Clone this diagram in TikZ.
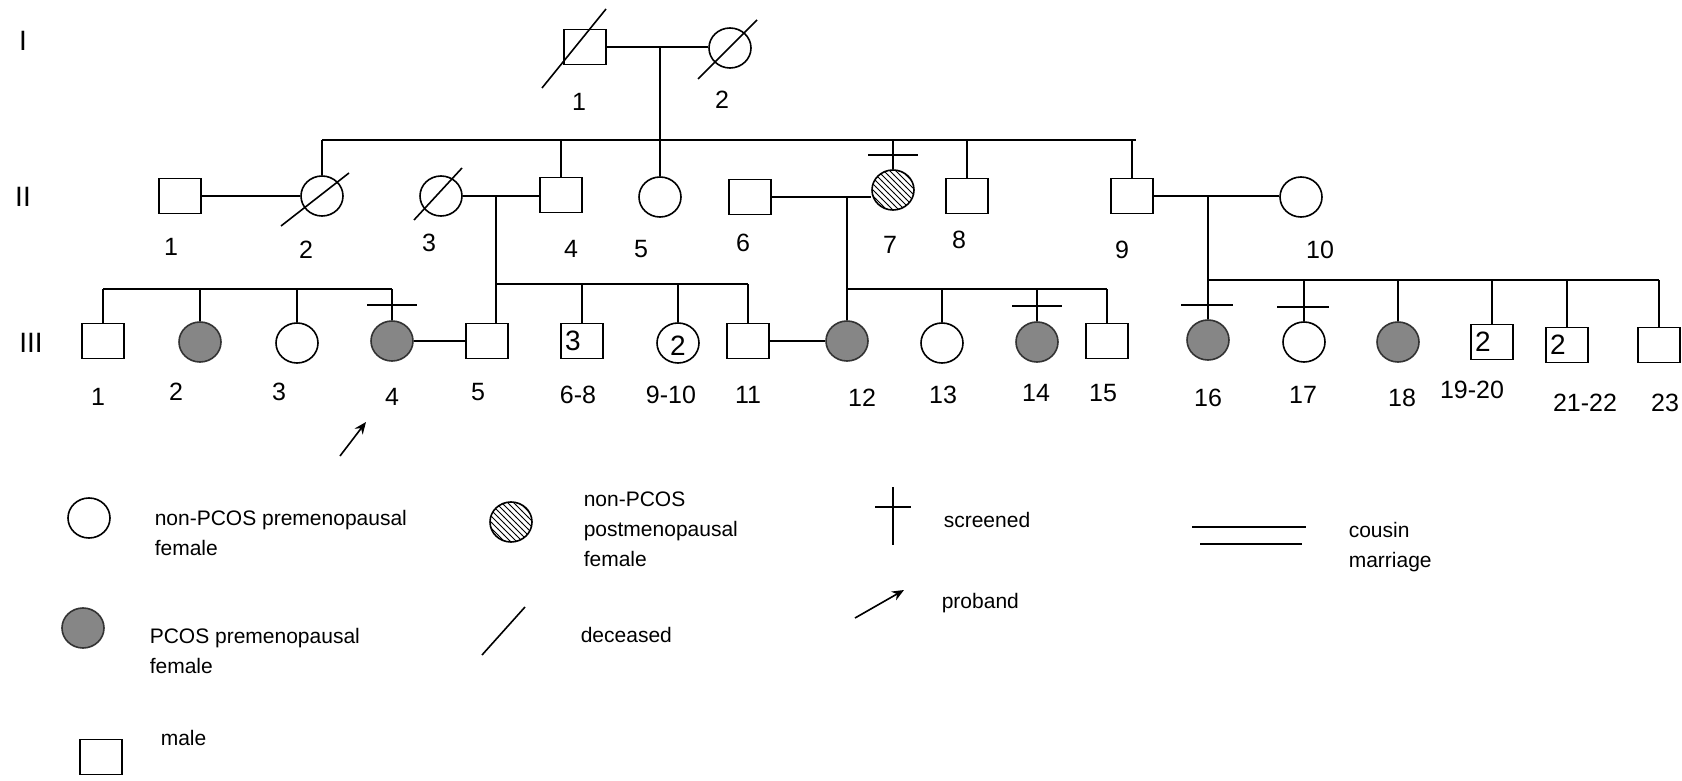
\documentclass[tikz,border=0pt]{standalone}
\usepackage{fontspec}
\setmainfont{Liberation Sans}
\usetikzlibrary{positioning,shapes.geometric,patterns,arrows.meta}

\tikzset{
  male/.style={draw, minimum width=21pt, minimum height=17.5pt, inner sep=0pt},
  female/.style={draw, ellipse, minimum width=21pt, minimum height=20pt, inner sep=0pt},
  pcos/.style={female, fill=gray!95, draw=gray!40!black},
  postmeno/.style={female, pattern=north west lines},
  num/.style={font=\fontsize{12.5}{14}\selectfont, inner sep=0pt},
  gen/.style={font=\fontsize{14}{16}\selectfont, inner sep=0pt},
  innum/.style={font=\fontsize{14}{16}\selectfont, inner sep=0pt},
  legtext/.style={font=\fontsize{10.5}{15}\selectfont, align=left, anchor=west, inner sep=0pt},
  proband/.style={-{Stealth[length=6pt,width=5pt]}},
}

\begin{document}
\begin{tikzpicture}[x=0.5pt, y=-0.5pt, line width=0.8pt]
\useasboundingbox (0,0) rectangle (1682,781);

% generations
\node [gen] (gI) at (23,41) {I};
\node [gen] (gII) at (23,197) {II};
\node [gen] (gIII) at (31,343) {III};

% generation I
\node [male] (i1) at (585,47) {};
\node [female] (i2) at (730,48) {};
\draw (i1.east) -- (i1.east -| i2.west);
\draw ([shift={(-43,41)}]i1.center) -- ([shift={(21,-38)}]i1.center);
\draw ([shift={(-32,31)}]i2.center) -- ([shift={(27,-28)}]i2.center);
\node [num] (lI1) at (579,102) {1};
\node [num] (lI2) at (722,100) {2};

% generation II
\node [male] (ii1) at (180,196) {};
\node [female] (ii2) at (322,196) {};
\node [female] (ii3) at (441,196) {};
\node [male] (ii4) at (561,195) {};
\node [female] (ii5) at (660,197) {};
\node [male] (ii6) at (750,197) {};
\node [postmeno] (ii7) at (893,190) {};
\node [male] (ii8) at (967,196) {};
\node [male] (ii9) at (1132,196) {};
\node [female] (ii10) at (1301,197) {};

\draw ([shift={(-41,30)}]ii2.center) -- ([shift={(27,-23)}]ii2.center);
\draw ([shift={(-27,24)}]ii3.center) -- ([shift={(21,-28)}]ii3.center);

\coordinate (m1) at (660,47);
\coordinate (s1l) at (322,140);
\coordinate (s1r) at (1136,140);
\draw (m1) -- (ii5.north);
\draw (s1l) -- (s1r);
\draw (ii2.north |- s1l) -- (ii2.north);
\draw (ii4.north |- s1l) -- (ii4.north);
\draw (ii7.north |- s1l) -- (ii7.north);
\draw (ii8.north |- s1l) -- (ii8.north);
\draw (ii9.north |- s1l) -- (ii9.north);
\draw ([shift={(-25,-14)}]ii7.north) -- ([shift={(25,-14)}]ii7.north);

\draw (ii1.east) -- (ii1.east -| ii2.west);
\draw (ii3.east) -- (ii3.east -| ii4.west);
\draw (ii6.east) -- (ii6.east -| ii7.west);
\draw (ii9.east) -- (ii9.east -| ii10.west);

\node [num] (lII1) at (171,247) {1};
\node [num] (lII2) at (306,250) {2};
\node [num] (lII3) at (429,243) {3};
\node [num] (lII4) at (571,249) {4};
\node [num] (lII5) at (641,249) {5};
\node [num] (lII6) at (743,243) {6};
\node [num] (lII7) at (890,245) {7};
\node [num] (lII8) at (959,240) {8};
\node [num] (lII9) at (1122,250) {9};
\node [num] (lII10) at (1320,250) {10};

% generation III
\node [male] (iii1) at (103,341) {};
\node [pcos] (iii2) at (200,342) {};
\node [female] (iii3) at (297,343) {};
\node [pcos] (iii4) at (392,341) {};
\node [male] (iii5) at (487,341) {};
\node [male] (iii6) at (582,341) {};
\node [female] (iii9) at (678,343) {};
\node [male] (iii11) at (748,341) {};
\node [pcos] (iii12) at (847,341) {};
\node [female] (iii13) at (942,343) {};
\node [pcos] (iii14) at (1037,342) {};
\node [male] (iii15) at (1107,341) {};
\node [pcos] (iii16) at (1208,340) {};
\node [female] (iii17) at (1304,342) {};
\node [pcos] (iii18) at (1398,342) {};
\node [male] (iii19) at (1492,342) {};
\node [male] (iii21) at (1567,345) {};
\node [male] (iii23) at (1659,345) {};

\node [innum, anchor=west] (n6) at ([xshift=2pt]iii6.west) {3};
\node [innum] (n9) at ([yshift=-1.5pt]iii9.center) {2};
\node [innum, anchor=west] (n19) at ([xshift=2pt]iii19.west) {2};
\node [innum, anchor=west] (n21) at ([xshift=2pt]iii21.west) {2};

% sibships of generation III
\coordinate (s2l) at (103,289);
\coordinate (s2r) at (392,289);
\draw (s2l) -- (s2r);
\draw (iii1.north |- s2l) -- (iii1.north);
\draw (iii2.north |- s2l) -- (iii2.north);
\draw (iii3.north |- s2l) -- (iii3.north);
\draw (iii4.north |- s2l) -- (iii4.north);

\coordinate (m3) at (496,195);
\coordinate (s3r) at (748,284);
\draw (m3) -- (m3 |- iii5.north);
\draw (m3 |- s3r) -- (s3r);
\draw (iii6.north |- s3r) -- (iii6.north);
\draw (iii9.north |- s3r) -- (iii9.north);
\draw (iii11.north |- s3r) -- (iii11.north);

\coordinate (m4) at (847,197);
\coordinate (s4r) at (1107,289);
\draw (m4) -- (iii12.north);
\draw (m4 |- s4r) -- (s4r);
\draw (iii13.north |- s4r) -- (iii13.north);
\draw (iii14.north |- s4r) -- (iii14.north);
\draw (iii15.north |- s4r) -- (iii15.north);

\coordinate (m5) at (1208,196);
\coordinate (s5r) at (1659,280);
\draw (m5) -- (iii16.north);
\draw (m5 |- s5r) -- (s5r);
\draw (iii17.north |- s5r) -- (iii17.north);
\draw (iii18.north |- s5r) -- (iii18.north);
\draw (iii19.north |- s5r) -- (iii19.north);
\draw (iii21.north |- s5r) -- (iii21.north);
\draw (iii23.north |- s5r) -- (iii23.north);

% screened
\draw ([shift={(-25,-15)}]iii4.north) -- ([shift={(25,-15)}]iii4.north);
\draw ([shift={(-25,-15)}]iii14.north) -- ([shift={(25,-15)}]iii14.north);
\draw ([shift={(-27,-14)}]iii16.north) -- ([shift={(25,-14)}]iii16.north);
\draw ([shift={(-27,-14)}]iii17.north) -- ([shift={(25,-14)}]iii17.north);

% marriages
\draw (iii4.east) -- (iii4.east -| iii5.west);
\draw (iii11.east) -- (iii11.east -| iii12.west);

% proband
\coordinate (pb) at (340,456);
\draw [proband] (pb) -- ++(26,-34);

\node [num] (lIII1) at (98,397) {1};
\node [num] (lIII2) at (176,392) {2};
\node [num] (lIII3) at (279,392) {3};
\node [num] (lIII4) at (392,397) {4};
\node [num] (lIII5) at (478,392) {5};
\node [num] (lIII6) at (578,395) {6-8};
\node [num] (lIII9) at (671,395) {9-10};
\node [num] (lIII11) at (748,395) {11};
\node [num] (lIII12) at (862,398) {12};
\node [num] (lIII13) at (943,395) {13};
\node [num] (lIII14) at (1036,393) {14};
\node [num] (lIII15) at (1103,393) {15};
\node [num] (lIII16) at (1208,398) {16};
\node [num] (lIII17) at (1303,395) {17};
\node [num] (lIII18) at (1402,398) {18};
\node [num] (lIII19) at (1472,390) {19-20};
\node [num] (lIII21) at (1585,403) {21-22};
\node [num] (lIII23) at (1665,403) {23};

% key
\node [female] (kfem) at (89,518) {};
\node [legtext] (kfemt) at (154,533) {non-PCOS premenopausal\\female};
\node [postmeno] (kpost) at (511,522) {};
\node [legtext] (kpostt) at (583,529) {non-PCOS\\postmenopausal\\female};
\node [pcos] (kpcos) at (83,628) {};
\node [legtext] (kpcost) at (149,651) {PCOS premenopausal\\female};
\draw (482,655) -- (525,607);
\node [legtext] (kdect) at (580,635) {deceased};
\node [male] (kmale) at (101,757) {};
\node [legtext] (kmalet) at (160,738) {male};
\draw (893,487) -- (893,545);
\draw (875,507) -- (911,507);
\node [legtext] (kscrt) at (943,520) {screened};
\draw [proband] (855,618) -- (904,590);
\node [legtext] (kprot) at (941,603) {proband};
\draw (1192,527) -- (1306,527);
\draw (1200,544) -- (1302,544);
\node [legtext] (kcoust) at (1348,547) {cousin\\marriage};

\end{tikzpicture}
\end{document}
